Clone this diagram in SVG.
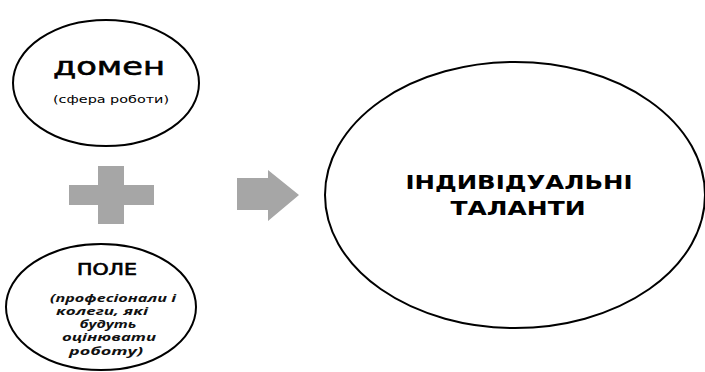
<svg xmlns="http://www.w3.org/2000/svg" width="705" height="372" viewBox="0 0 705 372">
<style>
.e{fill:#fff;stroke:#000;stroke-width:2}
.t{font-family:"DejaVu Sans","Open Sans",sans-serif;fill:#000;text-anchor:middle}
.m{stroke:#000;stroke-width:0.6}
.i{font-family:"Open Sans","DejaVu Sans",sans-serif;font-size:10px;font-style:italic;font-weight:bold;fill:#111;text-anchor:middle}
.s{fill:#a6a6a6}
</style>
<rect width="705" height="372" fill="#fff"/>
<g id="domain">
<ellipse class="e" cx="106" cy="83" rx="93" ry="63"/>
<text class="t m" x="109" y="75" font-size="24" textLength="112" lengthAdjust="spacingAndGlyphs">домен</text>
<text class="t" x="111" y="103" font-size="10" textLength="116" lengthAdjust="spacingAndGlyphs">(сфера роботи)</text>
</g>
<g id="field">
<ellipse class="e" cx="101" cy="307" rx="95" ry="63"/>
<text class="t m" x="107" y="275" font-size="15" textLength="60" lengthAdjust="spacingAndGlyphs">ПОЛЕ</text>
<text class="i" x="113" y="302" textLength="126" lengthAdjust="spacingAndGlyphs">(професіонали і</text>
<text class="i" x="102" y="315" textLength="92" lengthAdjust="spacingAndGlyphs">колеги, які</text>
<text class="i" x="108" y="328" textLength="57" lengthAdjust="spacingAndGlyphs">будуть</text>
<text class="i" x="109" y="341" textLength="94" lengthAdjust="spacingAndGlyphs">оцінювати</text>
<text class="i" x="106" y="355" textLength="74" lengthAdjust="spacingAndGlyphs">роботу)</text>
</g>
<g id="plus">
<path class="s" d="M98 166H124V185H154V205H124V224H98V205H69V185H98Z"/>
</g>
<g id="connectors">
<path class="s" d="M237 178H268V170L299 195L268 221V210H237Z"/>
</g>
<g id="talents">
<ellipse class="e" cx="515" cy="195" rx="190" ry="133"/>
<text class="t" x="519" y="189" font-size="20" font-weight="bold" textLength="227" lengthAdjust="spacingAndGlyphs">ІНДИВІДУАЛЬНІ</text>
<text class="t" x="518" y="215" font-size="20" font-weight="bold" textLength="135" lengthAdjust="spacingAndGlyphs">ТАЛАНТИ</text>
</g>
</svg>
